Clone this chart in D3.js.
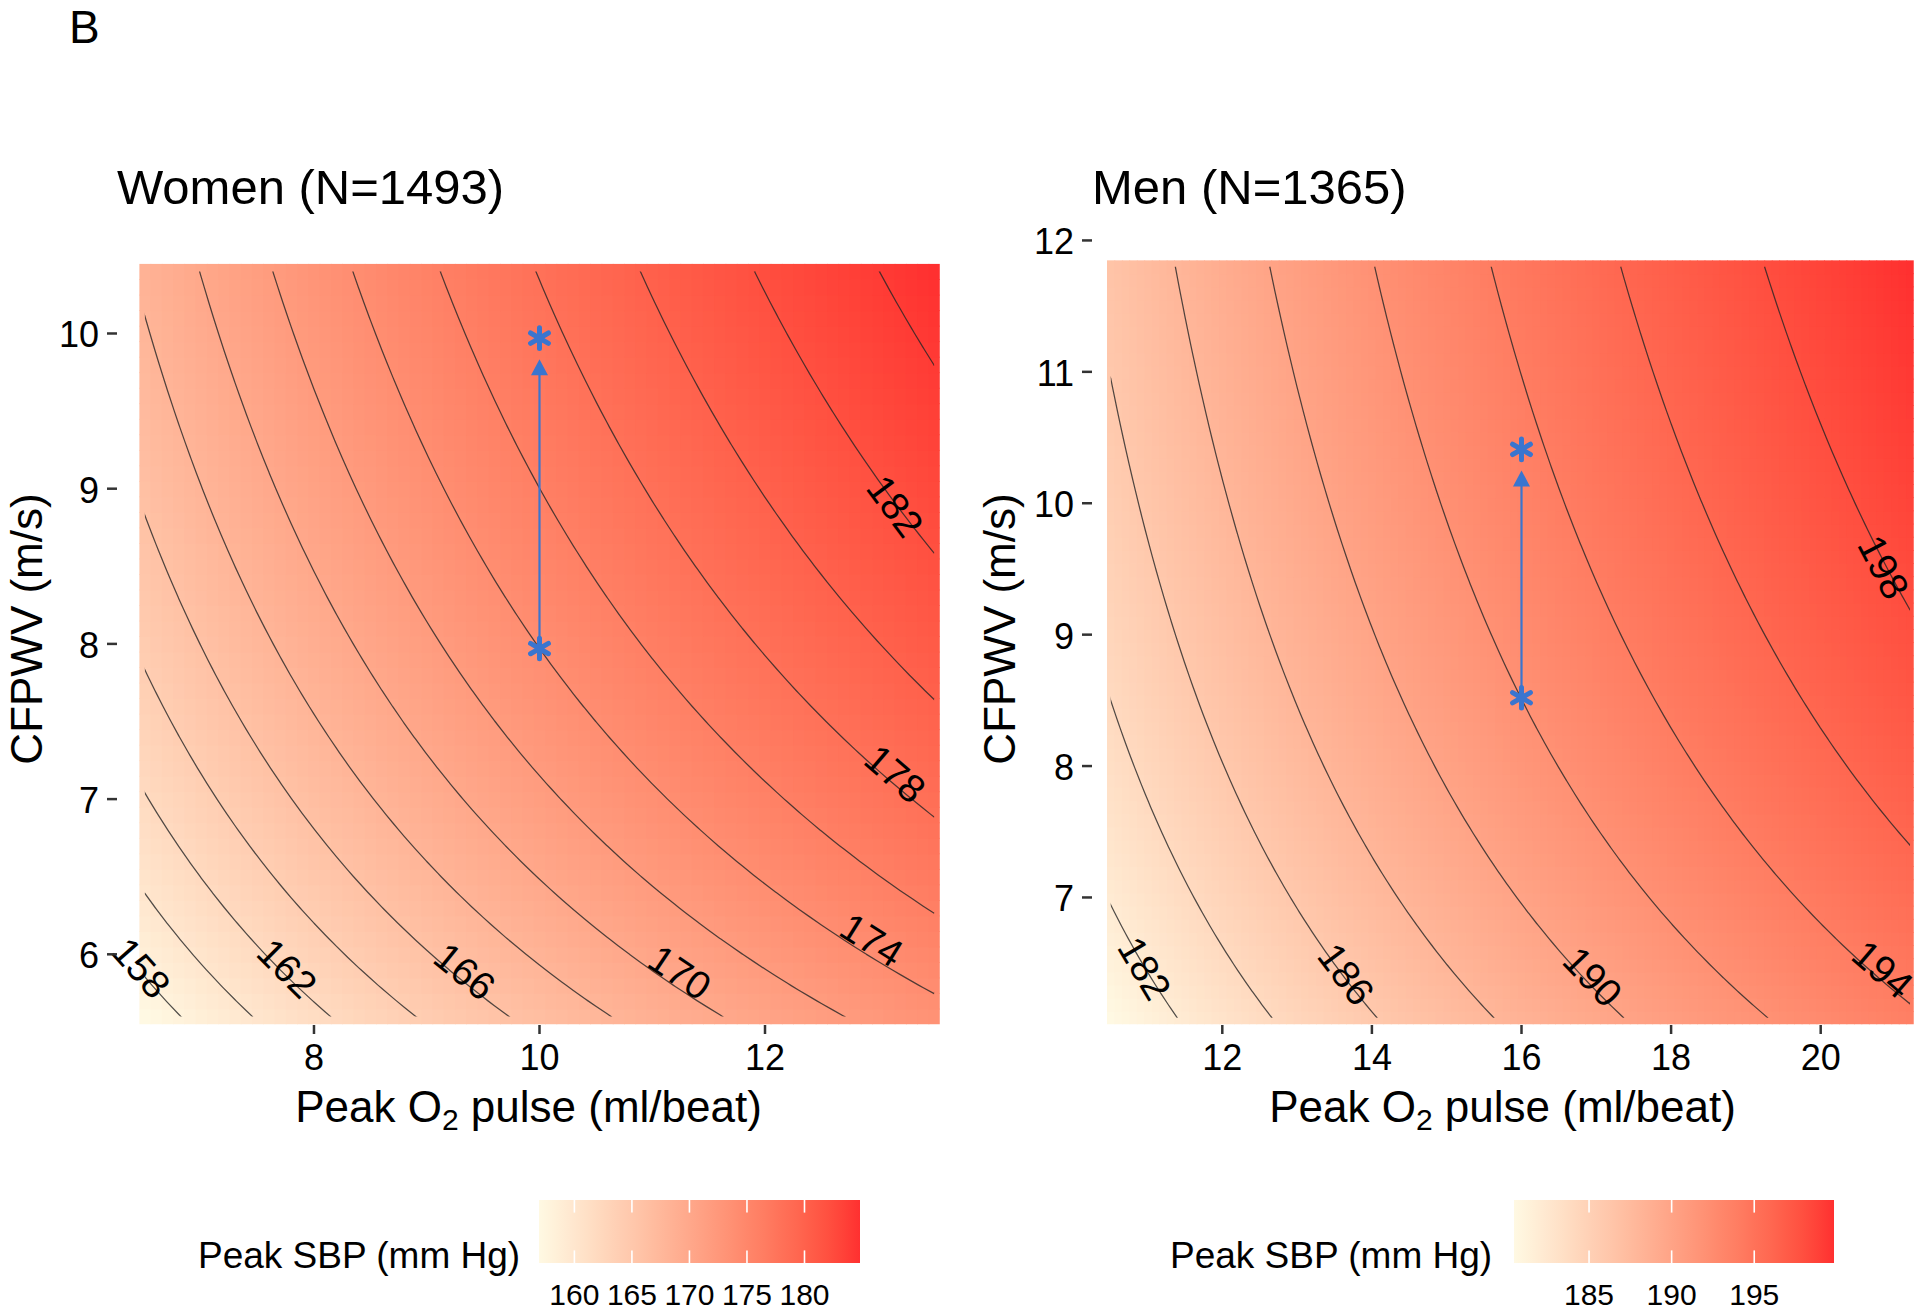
<!DOCTYPE html>
<html>
<head>
<meta charset="utf-8">
<script src="https://cdn.jsdelivr.net/npm/d3@7"></script>
<style>
  body { margin: 0; background: #ffffff; }
  svg { display: block; }
  text { font-family: "Liberation Sans", Arial, Helvetica, sans-serif; fill: #000; }
</style>
</head>
<body>
<svg id="chart" width="1920" height="1312"></svg>
<script>
// ------------------------------------------------------------------
// DATA
// ------------------------------------------------------------------
const figureLabel = "B";
const panelTitles = ["Women (N=1493)", "Men (N=1365)"];
const xAxisTitle = ["Peak O", "2", " pulse (ml/beat)"];
const yAxisTitle = "CFPWV (m/s)";
const legendTitle = "Peak SBP (mm Hg)";

const xTicksWomen = [8, 10, 12];
const yTicksWomen = [6, 7, 8, 9, 10];
const xTicksMen = [12, 14, 16, 18, 20];
const yTicksMen = [7, 8, 9, 10, 11, 12];

// fitted surface estimated from the contour positions:
// Peak SBP = b0 + b1 * ln(O2 pulse) + b2 / CFPWV
const coefWomen = [139.63, 22.5, -139.0];
const coefMen = [148.24, 19.0, -75.9];

// prediction grid: [from, to, number of points]
const gridXWomen = [6.5, 13.5, 71];
const gridYWomen = [5.6, 10.4, 49];
const gridXMen = [10.508, 21.194, 108];
const gridYMen = [6.085, 11.80, 58];
const contourStep = 2;

// contour labels: level and label centre (O2 pulse, CFPWV)
const labelLevelsWomen = [158, 162, 166, 170, 174, 178, 182];
const labelPosWomen = [[6.47, 5.915], [7.765, 5.912], [9.339, 5.893], [11.246, 5.886],
                       [12.949, 6.095], [13.157, 7.165], [13.157, 8.889]];
const labelLevelsMen = [182, 186, 190, 194, 198];
const labelPosMen = [[10.967, 6.463], [13.66, 6.418], [16.956, 6.399], [20.833, 6.456], [20.846, 9.515]];

// highlighted points (asterisks) and arrow (from, to)
const pointsWomen = [[10, 7.97], [10, 9.97]];
const arrowWomen = [[10, 7.97], [10, 9.834]];
const pointsMen = [[16, 8.52], [16, 10.41]];
const arrowMen = [[16, 8.52], [16, 10.25]];

const legendTicksWomen = [160, 165, 170, 175, 180];
const legendTicksMen = [185, 190, 195];

// ------------------------------------------------------------------
// STYLE / LAYOUT
// ------------------------------------------------------------------
const lowColor = "#FFF9E3";
const highColor = "#FF3030";
const markColor = "#3A75CF";

const panels = [
  { title: panelTitles[0], coef: coefWomen, gx: gridXWomen, gy: gridYWomen,
    xTicks: xTicksWomen, yTicks: yTicksWomen, labLevels: labelLevelsWomen, labPos: labelPosWomen,
    pts: pointsWomen, arrow: arrowWomen, legTicks: legendTicksWomen,
    box: { l: 117, r: 940, t: 234, b: 1024 }, xDom: [6.253, 13.552], yDom: [5.551, 10.641],
    titleX: 117, yTitleX: 42, legend: { titleX: 198, x0: 539, x1: 860 } },
  { title: panelTitles[1], coef: coefMen, gx: gridXMen, gy: gridYMen,
    xTicks: xTicksMen, yTicks: yTicksMen, labLevels: labelLevelsMen, labPos: labelPosMen,
    pts: pointsMen, arrow: arrowMen, legTicks: legendTicksMen,
    box: { l: 1092, r: 1913, t: 234, b: 1024 }, xDom: [10.258, 21.234], yDom: [6.037, 12.049],
    titleX: 1092, yTitleX: 1015, legend: { titleX: 1170, x0: 1514, x1: 1834 } }
];

const svg = d3.select("#chart");
const defs = svg.append("defs");

svg.append("rect").attr("width", 1920).attr("height", 1312).attr("fill", "#fff");

svg.append("text").attr("x", 69).attr("y", 43).attr("font-size", 46).text(figureLabel);

panels.forEach((p, k) => {
  const x = d3.scaleLinear().domain(p.xDom).range([p.box.l, p.box.r]);
  const y = d3.scaleLinear().domain(p.yDom).range([p.box.b, p.box.t]);

  const [gx0, gx1, nx] = p.gx;
  const [gy0, gy1, ny] = p.gy;
  const dx = (gx1 - gx0) / (nx - 1), dy = (gy1 - gy0) / (ny - 1);
  const gxs = d3.range(nx).map(i => gx0 + dx * i);
  const gys = d3.range(ny).map(j => gy0 + dy * j);
  const model = (o2, pwv) => p.coef[0] + p.coef[1] * Math.log(o2) + p.coef[2] / pwv;

  const values = new Float64Array(nx * ny);
  const cells = [];
  for (let j = 0; j < ny; j++) {
    for (let i = 0; i < nx; i++) {
      const v = model(gxs[i], gys[j]);
      values[j * nx + i] = v;
      cells.push({ cx: gxs[i], cy: gys[j], v });
    }
  }
  const ext = d3.extent(values);
  const color = d3.scaleSequential(d3.interpolateLab(lowColor, highColor)).domain(ext);

  const g = svg.append("g");

  // ---- raster ----
  const rx0 = x(gx0 - dx / 2), rx1 = x(gx1 + dx / 2);
  const ry0 = y(gy1 + dy / 2), ry1 = y(gy0 - dy / 2);
  defs.append("clipPath").attr("id", "rclip" + k)
    .append("rect").attr("x", rx0).attr("y", ry0).attr("width", rx1 - rx0).attr("height", ry1 - ry0);
  g.append("g").attr("clip-path", `url(#rclip${k})`)
    .selectAll("rect").data(cells).join("rect")
    .attr("x", d => x(d.cx - dx / 2))
    .attr("y", d => y(d.cy + dy / 2))
    .attr("width", d => x(d.cx + dx / 2) - x(d.cx - dx / 2) + 0.8)
    .attr("height", d => y(d.cy - dy / 2) - y(d.cy + dy / 2) + 0.8)
    .attr("fill", d => color(d.v));

  // ---- contours ----
  const levels = d3.range(Math.ceil(ext[0] / contourStep) * contourStep, ext[1], contourStep);
  const contours = d3.contours().size([nx, ny]).thresholds(levels)(values);
  const toPx = (u, v) => [x(gx0 + (u - 0.5) * dx), y(gy0 + (v - 0.5) * dy)];
  const proj = d3.geoTransform({ point(u, v) { const q = toPx(u, v); this.stream.point(q[0], q[1]); } });
  const cpath = d3.geoPath(proj);
  const cx0 = x(gx0), cx1 = x(gx1), cy0 = y(gy1), cy1 = y(gy0);
  defs.append("clipPath").attr("id", "cclip" + k)
    .append("rect").attr("x", cx0).attr("y", cy0).attr("width", cx1 - cx0).attr("height", cy1 - cy0);
  g.append("g").attr("clip-path", `url(#cclip${k})`)
    .selectAll("path").data(contours).join("path")
    .attr("d", cpath)
    .attr("fill", "none")
    .attr("stroke", "#262626")
    .attr("stroke-opacity", 0.8)
    .attr("stroke-width", 1.25);

  // ---- contour labels ----
  const inside = pt => pt[0] > 0.5 - 1e-9 && pt[0] < nx - 0.5 + 1e-9 && pt[1] > 0.5 - 1e-9 && pt[1] < ny - 0.5 + 1e-9;
  function labelAngle(level, px, py) {
    const c = contours.find(cc => Math.abs(cc.value - level) < 1e-9);
    if (!c) return 0;
    let best = Infinity, ang = 0;
    c.coordinates.forEach(poly => poly.forEach(ring => {
      const pts = ring.filter(inside).map(pt => toPx(pt[0], pt[1]));
      for (let i = 0; i < pts.length; i++) {
        const d = (pts[i][0] - px) ** 2 + (pts[i][1] - py) ** 2;
        if (d < best) {
          best = d;
          const a = pts[Math.max(0, i - 3)], b = pts[Math.min(pts.length - 1, i + 3)];
          ang = Math.atan2(b[1] - a[1], b[0] - a[0]) * 180 / Math.PI;
        }
      }
    }));
    if (ang > 90) ang -= 180;
    if (ang < -90) ang += 180;
    return ang;
  }
  const labs = p.labLevels.map((L, i) => {
    const px = x(p.labPos[i][0]), py = y(p.labPos[i][1]);
    return { L, px, py, ang: labelAngle(L, px, py) };
  });
  g.append("g").selectAll("text").data(labs).join("text")
    .attr("transform", d => `translate(${d.px},${d.py}) rotate(${d.ang})`)
    .attr("text-anchor", "middle")
    .attr("dy", "0.36em")
    .attr("font-size", 39)
    .text(d => d.L);

  // ---- arrow and asterisks ----
  const ax = x(p.arrow[0][0]);
  const ay0 = y(p.arrow[0][1]), ay1 = y(p.arrow[1][1]);
  const headLen = 16, headHalf = 8.5;
  g.append("line")
    .attr("x1", ax).attr("x2", ax).attr("y1", ay0).attr("y2", ay1 + headLen - 1)
    .attr("stroke", markColor).attr("stroke-width", 2.2);
  g.append("path")
    .attr("d", `M${ax},${ay1}L${ax - headHalf},${ay1 + headLen}L${ax + headHalf},${ay1 + headLen}Z`)
    .attr("fill", markColor);
  g.append("g").selectAll("path").data(p.pts).join("path")
    .attr("transform", d => `translate(${x(d[0])},${y(d[1])})`)
    .attr("d", d3.symbol(d3.symbolAsterisk, 300)())
    .attr("fill", "none")
    .attr("stroke", markColor)
    .attr("stroke-width", 5)
    .attr("stroke-linecap", "round");

  // ---- axes ----
  const tickColor = "#333";
  g.append("g").selectAll("line").data(p.yTicks).join("line")
    .attr("x1", p.box.l - 10).attr("x2", p.box.l)
    .attr("y1", d => y(d)).attr("y2", d => y(d))
    .attr("stroke", tickColor).attr("stroke-width", 2.5);
  g.append("g").selectAll("text").data(p.yTicks).join("text")
    .attr("x", p.box.l - 18).attr("y", d => y(d) + 14)
    .attr("text-anchor", "end").attr("font-size", 36)
    .text(d => d);
  g.append("g").selectAll("line").data(p.xTicks).join("line")
    .attr("x1", d => x(d)).attr("x2", d => x(d))
    .attr("y1", p.box.b + 1).attr("y2", p.box.b + 10)
    .attr("stroke", tickColor).attr("stroke-width", 2.5);
  g.append("g").selectAll("text").data(p.xTicks).join("text")
    .attr("x", d => x(d)).attr("y", 1070)
    .attr("text-anchor", "middle").attr("font-size", 36)
    .text(d => d);

  // axis titles
  const xt = g.append("text")
    .attr("x", (p.box.l + p.box.r) / 2).attr("y", 1122)
    .attr("text-anchor", "middle").attr("font-size", 44);
  xt.append("tspan").text(xAxisTitle[0]);
  xt.append("tspan").attr("font-size", 30).attr("dy", 8).text(xAxisTitle[1]);
  xt.append("tspan").attr("dy", -8).text(xAxisTitle[2]);

  g.append("text")
    .attr("transform", `translate(${p.yTitleX},${(p.box.t + p.box.b) / 2}) rotate(-90)`)
    .attr("text-anchor", "middle").attr("font-size", 44)
    .text(yAxisTitle);

  // panel title
  g.append("text").attr("x", p.titleX).attr("y", 204).attr("font-size", 49).text(p.title);

  // ---- legend ----
  const lg = p.legend;
  const ls = d3.scaleLinear().domain(ext).range([lg.x0, lg.x1]);
  const grad = defs.append("linearGradient").attr("id", "lgrad" + k)
    .attr("x1", "0%").attr("x2", "100%").attr("y1", "0%").attr("y2", "0%");
  grad.selectAll("stop").data(d3.range(0, 21)).join("stop")
    .attr("offset", d => (d * 5) + "%")
    .attr("stop-color", d => color(ext[0] + (ext[1] - ext[0]) * d / 20));
  const barTop = 1200, barH = 63;
  g.append("rect").attr("x", lg.x0).attr("y", barTop).attr("width", lg.x1 - lg.x0).attr("height", barH)
    .attr("fill", `url(#lgrad${k})`);
  const tl = barH / 5;
  g.append("g").selectAll("line").data(p.legTicks).join("line")
    .attr("x1", d => ls(d)).attr("x2", d => ls(d)).attr("y1", barTop).attr("y2", barTop + tl)
    .attr("stroke", "#fff").attr("stroke-width", 1.6);
  g.append("g").selectAll("line").data(p.legTicks).join("line")
    .attr("x1", d => ls(d)).attr("x2", d => ls(d)).attr("y1", barTop + barH - tl).attr("y2", barTop + barH)
    .attr("stroke", "#fff").attr("stroke-width", 1.6);
  g.append("g").selectAll("text").data(p.legTicks).join("text")
    .attr("x", d => ls(d)).attr("y", 1305)
    .attr("text-anchor", "middle").attr("font-size", 30)
    .text(d => d);
  g.append("text").attr("x", lg.titleX).attr("y", 1268).attr("font-size", 37).text(legendTitle);
});
</script>
</body>
</html>
